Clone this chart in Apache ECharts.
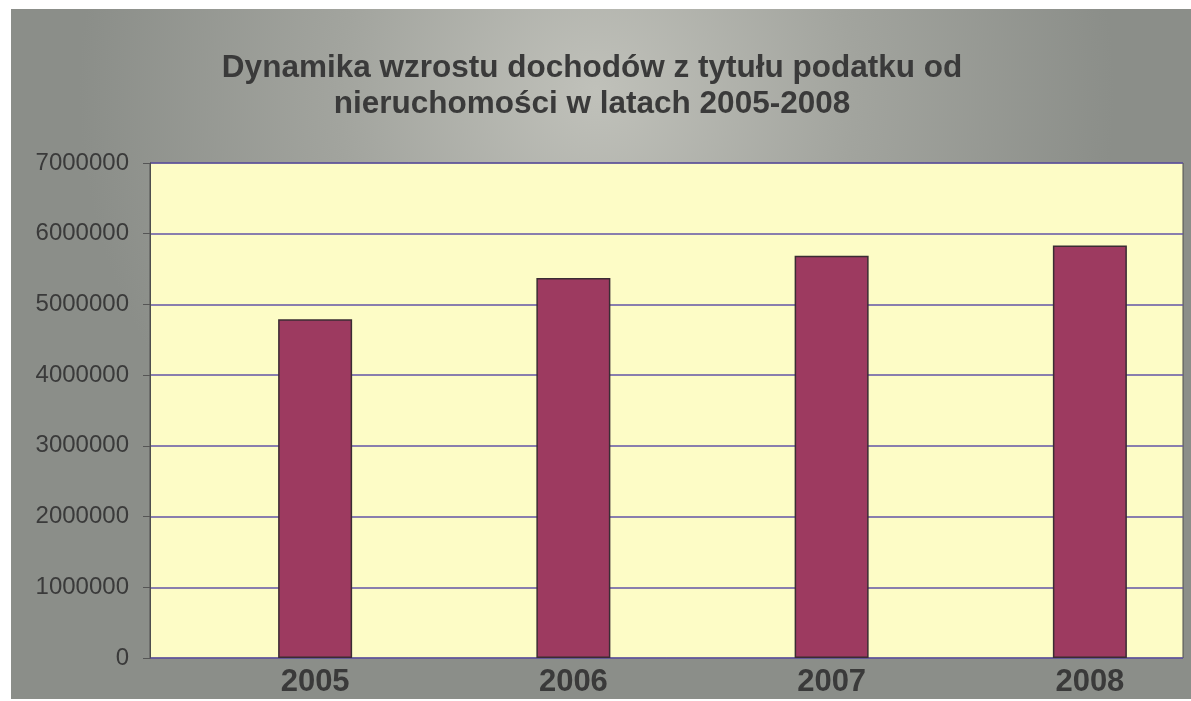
<!DOCTYPE html>
<html lang="pl">
    <head>
        <meta charset="UTF-8"/>
        <script src="https://cdn.jsdelivr.net/npm/echarts@6/dist/echarts.min.js"></script>
        <title>Dynamika wzrostu dochodów</title>
        <style>
            html, body { margin: 0; padding: 0; background: #ffffff; overflow: hidden; }
        </style>
    </head>
    <body>
        <!-- kontener szerszy niż okno, żeby kategorie miały ten sam rozstaw co w oryginale -->
        <div id="main" style="position: absolute; left: 11px; top: 9px; width: 1220px; height: 690px;"></div>
        <script type="text/javascript">

            // dane wykresu
            var years = ['2005', '2006', '2007', '2008'];
            var incomes = [4790000, 5375000, 5690000, 5835000];
            var yTicks = [0, 1000000, 2000000, 3000000, 4000000, 5000000, 6000000, 7000000];

            var myChart = echarts.init(document.getElementById('main'));

            var option = {
                animation: false,
                backgroundColor: {
                    type: 'radial',
                    x: 0.48, y: 0.12, r: 0.75,
                    colorStops: [
                        {offset: 0, color: '#c0c1ba'},
                        {offset: 0.5, color: '#a2a49e'},
                        {offset: 1, color: '#8b8e89'}
                    ]
                },

                title: {
                    text: 'Dynamika wzrostu dochodów z tytułu podatku od\nnieruchomości w latach 2005-2008',
                    left: 576,
                    top: 36,
                    textAlign: 'center',
                    textStyle: {
                        fontFamily: 'Liberation Sans, Arial, sans-serif',
                        fontSize: 31.5,
                        fontWeight: 'bold',
                        color: '#3a3a3a',
                        lineHeight: 36
                    }
                },

                // grid 0: żółte tło z osią wartości, grid 1: słupki i lata
                grid: [
                    {
                        left: 139, right: 48, top: 154, bottom: 41,
                        show: true,
                        backgroundColor: '#fdfcc6',
                        borderColor: '#4e4e4e',
                        borderWidth: 1
                    },
                    {
                        left: 175, right: 12, top: 154, bottom: 41
                    }
                ],

                xAxis: [
                    {
                        gridIndex: 0,
                        type: 'category',
                        data: years,
                        show: false
                    },
                    {
                        gridIndex: 1,
                        type: 'category',
                        data: years,
                        axisLine: {show: false},
                        axisTick: {show: false},
                        axisLabel: {
                            margin: 9,
                            fontFamily: 'Liberation Sans, Arial, sans-serif',
                            fontSize: 31,
                            fontWeight: 'bold',
                            color: '#3a3a3a'
                        }
                    }
                ],

                yAxis: [
                    {
                        gridIndex: 0,
                        type: 'value',
                        min: yTicks[0],
                        max: yTicks[yTicks.length - 1],
                        interval: 1000000,
                        axisLine: {show: true, lineStyle: {color: '#4e4e4e', width: 1}},
                        axisTick: {show: true, length: 7, lineStyle: {color: '#555555'}},
                        axisLabel: {
                            margin: 21,
                            fontFamily: 'Liberation Sans, Arial, sans-serif',
                            fontSize: 24,
                            color: '#3a3a3a',
                            formatter: function (v) { return String(v); }
                        },
                        splitLine: {show: true, lineStyle: {color: '#6255a6', width: 1.5}}
                    },
                    {
                        gridIndex: 1,
                        type: 'value',
                        min: yTicks[0],
                        max: yTicks[yTicks.length - 1],
                        show: false,
                        splitLine: {show: false}
                    }
                ],

                series: [
                    {
                        name: 'Dochody',
                        type: 'bar',
                        xAxisIndex: 1,
                        yAxisIndex: 1,
                        barWidth: 74,
                        data: incomes,
                        itemStyle: {
                            color: '#9d3a60',
                            borderColor: '#3b2c33',
                            borderWidth: 1.5
                        }
                    }
                ]
            };

            myChart.setOption(option);

        </script>
    </body>
</html>
